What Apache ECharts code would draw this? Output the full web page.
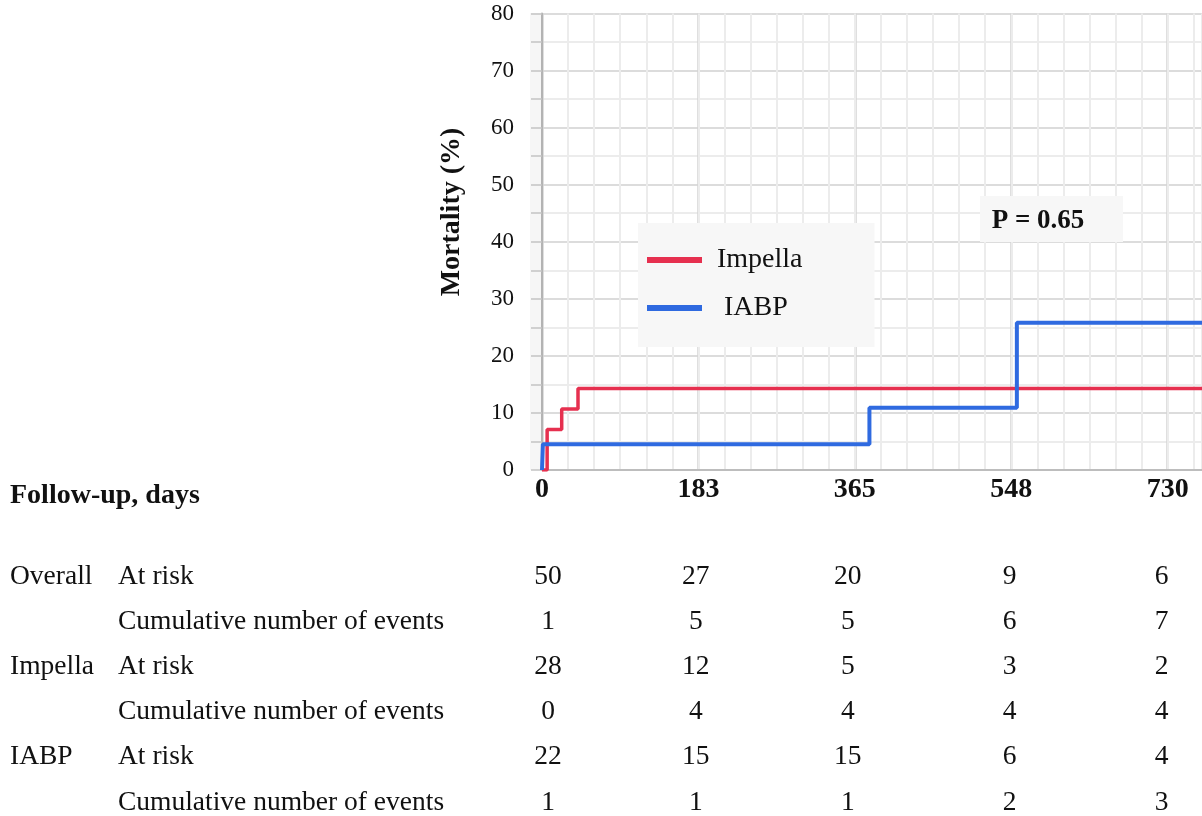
<!DOCTYPE html>
<html>
<head>
<meta charset="utf-8">
<script src="https://cdn.jsdelivr.net/npm/echarts@6/dist/echarts.min.js"></script>
<style>
  html, body { margin: 0; padding: 0; background: #fff; }
  #main { width: 1202px; height: 816px; }
</style>
</head>
<body>
<div id="main"></div>
<script>
// curves (days, mortality %)
var impellaDays = [0, 6, 23, 42, 770]
var impellaMort = [0, 7.1, 10.7, 14.3, 14.3]
var iabpDays = [0, 1, 382, 554, 770]
var iabpMort = [0, 4.5, 10.9, 25.8, 25.8]

// numbers at risk table
var dayTicks = [0, 183, 365, 548, 730]
var overallAtRisk = [50, 27, 20, 9, 6]
var overallEvents = [1, 5, 5, 6, 7]
var impellaAtRisk = [28, 12, 5, 3, 2]
var impellaEvents = [0, 4, 4, 4, 4]
var iabpAtRisk = [22, 15, 15, 6, 4]
var iabpEvents = [1, 1, 1, 2, 3]

var serif = '"Liberation Serif", "Times New Roman", serif'
var RED = '#e6304f'
var BLUE = '#2f6ae0'

var pairs = function (xs, ys) {
  return xs.map(function (x, i) { return [x, ys[i]] })
}

var myChart = echarts.init(document.getElementById('main'))

var option = {
  animation: false,
  grid: { left: 542, right: 0, top: 13.5, bottom: 346, containLabel: false },
  xAxis: [{
    type: 'value',
    min: 0,
    max: 770,
    interval: 182.5,
    axisLine: { show: true, lineStyle: { color: '#bdbdbd', width: 2 } },
    axisTick: { show: false },
    axisLabel: {
      show: true,
      margin: 6,
      showMaxLabel: false,
      fontFamily: serif,
      fontWeight: 'bold',
      fontSize: 28,
      color: '#111',
      formatter: function (v) { return Math.round(v) }
    },
    splitLine: { show: true, lineStyle: { color: '#d4d4d4', width: 2.5 } }
  }, {
    // minor vertical grid
    type: 'value',
    min: 0,
    max: 770,
    interval: 182.5 / 6,
    position: 'bottom',
    axisLine: { show: false },
    axisTick: { show: false },
    axisLabel: { show: false },
    splitLine: { show: true, lineStyle: { color: '#ececec', width: 2 } }
  }],
  yAxis: {
    type: 'value',
    min: 0,
    max: 80,
    interval: 10,
    axisLine: { show: true, lineStyle: { color: '#b3b3b3', width: 2 } },
    axisTick: { show: true, length: 11, inside: false, lineStyle: { color: '#c4c4c4', width: 1.5 } },
    minorTick: { show: true, splitNumber: 2, length: 11, lineStyle: { color: '#c4c4c4', width: 1.5 } },
    minorSplitLine: { show: true, lineStyle: { color: '#ececec', width: 2 } },
    splitLine: { show: true, lineStyle: { color: '#dcdcdc', width: 2 } },
    axisLabel: {
      margin: 28,
      fontFamily: serif,
      fontSize: 23,
      color: '#111',
      padding: [4, 0, 0, 0]
    }
  },
  legend: {
    left: 638,
    top: 223,
    orient: 'vertical',
    backgroundColor: '#f7f7f7',
    padding: [23, 72, 25, 9],
    itemWidth: 55,
    itemHeight: 6,
    itemGap: 20,
    icon: 'rect',
    textStyle: { fontFamily: serif, fontSize: 28, color: '#111', padding: [0, 0, 0, 10] },
    data: ['Impella', ' IABP']
  },
  series: [{
    name: 'Impella',
    type: 'line',
    step: 'end',
    symbol: 'none',
    data: pairs(impellaDays, impellaMort),
    lineStyle: { color: RED, width: 3.5 },
    itemStyle: { color: RED },
    z: 3
  }, {
    name: ' IABP',
    type: 'line',
    step: 'end',
    symbol: 'none',
    data: pairs(iabpDays, iabpMort),
    lineStyle: { color: BLUE, width: 4 },
    itemStyle: { color: BLUE },
    z: 4
  }]
}
myChart.setOption(option)

// text parts: axis title, p value, table under the plot
var rowY = [577, 622, 667, 712, 757, 803]
var groupLabels = ['Overall', '', 'Impella', '', 'IABP', '']
var rowLabels = ['At risk', 'Cumulative number of events', 'At risk', 'Cumulative number of events', 'At risk', 'Cumulative number of events']
var rows = [overallAtRisk, overallEvents, impellaAtRisk, impellaEvents, iabpAtRisk, iabpEvents]
var colShift = [6, -3, -7, -2, -6]

var txt = function (x, y, s, extra) {
  var style = { text: String(s), fontFamily: serif, fontSize: 27.5, fill: '#111', textVerticalAlign: 'middle' }
  for (var k in extra) style[k] = extra[k]
  return { type: 'text', x: x, y: y, style: style, z: 10 }
}

var graphics = [
  { type: 'rect', shape: { x: 530, y: 13, width: 11, height: 457 }, style: { fill: '#f6f6f6' }, z: -1, silent: true },
  {
    type: 'text', x: 452, y: 212, rotation: Math.PI / 2,
    style: { text: 'Mortality (%)', fontFamily: serif, fontSize: 28, fontWeight: 'bold', fill: '#111', textAlign: 'center', textVerticalAlign: 'middle' },
    z: 10
  },
  { type: 'rect', shape: { x: 980, y: 196, width: 143, height: 46 }, style: { fill: '#f7f7f7' }, z: 5 },
  txt(1038, 221, 'P = 0.65', { fontWeight: 'bold', fontSize: 27, textAlign: 'center' }),
  txt(10, 496, 'Follow-up, days', { fontWeight: 'bold', fontSize: 28 })
]

rows.forEach(function (vals, r) {
  if (groupLabels[r]) graphics.push(txt(10, rowY[r], groupLabels[r]))
  graphics.push(txt(118, rowY[r], rowLabels[r]))
  vals.forEach(function (v, c) {
    var px = myChart.convertToPixel({ xAxisIndex: 0 }, dayTicks[c])
    graphics.push(txt(px + colShift[c], rowY[r], v, { textAlign: 'center' }))
  })
})

myChart.setOption({ graphic: graphics })
</script>
</body>
</html>
